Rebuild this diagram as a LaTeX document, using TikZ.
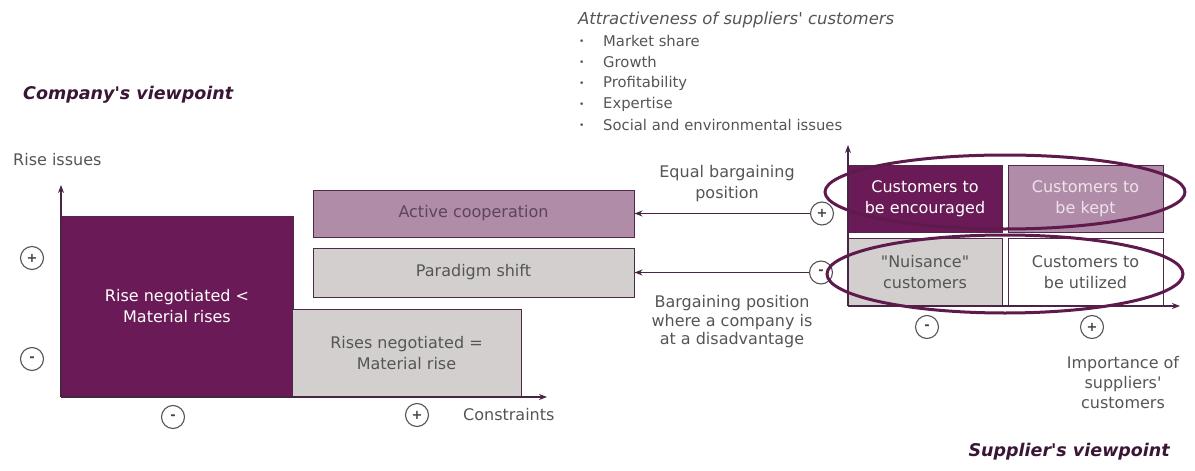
\documentclass[tikz,border=0pt]{standalone}
\usepackage{fontspec}
\setmainfont{DejaVu Sans}[Ligatures=TeXOff]
\usepackage{xcolor}
\usepackage{tikz}
\usetikzlibrary{positioning,arrows.meta}

\definecolor{darkplum}{HTML}{6A1A56}
\definecolor{mauve}{HTML}{B08CA8}
\definecolor{lightgrey}{HTML}{D3CFCF}
\definecolor{boxline}{HTML}{4E2A48}
\definecolor{axisline}{HTML}{4A2444}
\definecolor{ringplum}{HTML}{5E1A4D}
\definecolor{textgray}{HTML}{555555}
\definecolor{titleplum}{HTML}{3A1636}
\definecolor{paletext}{HTML}{EEE3EC}

\begin{document}
\begin{tikzpicture}[x=1pt, y=-1pt,
  txt/.style={font=\fontsize{16}{21}\selectfont, text=textgray, align=center, inner sep=0pt},
  listtxt/.style={font=\fontsize{14.8}{18}\selectfont, text=textgray, inner sep=0pt, anchor=west},
  box/.style={draw=boxline, line width=1pt, inner sep=0pt, align=center, text=textgray, font=\fontsize{16}{21}\selectfont},
  sign/.style={circle, draw=textgray, fill=white, line width=1.1pt, minimum size=23pt, inner sep=0pt, font=\fontsize{13}{13}\selectfont\bfseries, text=textgray!80!black},
  axis/.style={draw=axisline, line width=1.4pt, -{Stealth[length=8pt,width=6pt]}},
  view/.style={font=\fontsize{17.5}{20}\selectfont\bfseries\itshape, text=titleplum, inner sep=0pt},
  ring/.style={draw=ringplum, line width=3pt}]
\useasboundingbox (0,0) rectangle (1195,471);

% Company side
\node[view, anchor=west] (compview) at (23,95) {Company's viewpoint};
\node[txt, anchor=west] (riselbl) at (13,160) {Rise issues};

\node[box, fill=darkplum, text=white, minimum width=232pt, minimum height=181pt] (lowrise) at (177,306.5) {Rise negotiated <\\Material rises};
\node[box, fill=lightgrey, minimum width=229pt, minimum height=88pt] (eqrise) at (406.5,353) {Rises negotiated =\\Material rise};
\node[box, fill=mauve, text=boxline!70!gray, minimum width=321pt, minimum height=47pt] (coop) at (473.5,213.5) {Active cooperation};
\node[box, fill=lightgrey, minimum width=321pt, minimum height=49pt] (shift) at (473.5,272.5) {Paradigm shift};

% Left axes
\coordinate (lorig) at (61,397);
\coordinate (ltop) at (61,185);
\coordinate (lend) at (547,397);
\draw[axis] (lorig) -- (ltop);
\draw[axis] (lorig) -- (lend);

\node[sign] (lplus) at (32,258) {+};
\node[sign] (lminus) at (32,359) {-};
\node[sign] (bminus) at (173,417) {-};
\node[sign] (bplus) at (417,415) {+};
\node[txt, anchor=west] (constr) at (463,415) {Constraints};

% Attractiveness list
\node[listtxt, font=\fontsize{16.5}{18}\selectfont\itshape] (attr) at (578,20) {Attractiveness of suppliers' customers};
\node[listtxt] (item1) at (603,41) {Market share};
\node[listtxt] (item2) at (603,62) {Growth};
\node[listtxt] (item3) at (603,83) {Profitability};
\node[listtxt] (item4) at (603,104) {Expertise};
\node[listtxt] (item5) at (603,125) {Social and environmental issues};
\node[listtxt, font=\fontsize{9}{9}\selectfont] (dot1) at (579,42) {•};
\node[listtxt, font=\fontsize{9}{9}\selectfont] (dot2) at (579,63) {•};
\node[listtxt, font=\fontsize{9}{9}\selectfont] (dot3) at (579,84) {•};
\node[listtxt, font=\fontsize{9}{9}\selectfont] (dot4) at (579,105) {•};
\node[listtxt, font=\fontsize{9}{9}\selectfont] (dot5) at (579,126) {•};

% Supplier matrix
\node[box, fill=darkplum, text=white, minimum width=154pt, minimum height=67pt] (encour) at (925,198.5) {Customers to\\be encouraged};
\node[box, fill=mauve, text=paletext, minimum width=155pt, minimum height=67pt] (kept) at (1085.5,198.5) {Customers to\\be kept};
\node[box, fill=lightgrey, minimum width=154pt, minimum height=68pt] (nuis) at (925,272) {"Nuisance"\\customers};
\node[box, fill=white, minimum width=155pt, minimum height=68pt] (util) at (1085.5,272) {Customers to\\be utilized};

\coordinate (rorig) at (848,306);
\coordinate (rtop) at (848,145);
\coordinate (rend) at (1180,306);
\draw[axis] (rorig) -- (rtop);
\draw[axis] (rorig) -- (rend);

\node[sign] (rplus) at (822,213.5) {+};
\node[sign] (rminus) at (821,272.5) {-};
\node[sign] (qminus) at (927,327) {-};
\node[sign] (qplus) at (1092,327) {+};

% Bargaining arrows
\draw[axis, line width=1.2pt] (rplus) -- (coop);
\draw[axis, line width=1.2pt] (rminus) -- (shift);
\node[txt] (equal) at (727,184) {Equal bargaining\\position};
\node[txt, font=\fontsize{16}{18.5}\selectfont] (disadv) at (732,322) {Bargaining position\\where a company is\\at a disadvantage};

% Rings
\draw[ring] (1005,192) ellipse [x radius=180pt, y radius=37pt];
\draw[ring] (1005,274) ellipse [x radius=178pt, y radius=39pt];

\node[txt, font=\fontsize{16}{20}\selectfont] (import) at (1123,383) {Importance of\\suppliers'\\customers};
\node[view, anchor=east] (suppview) at (1170,452) {Supplier's viewpoint};
\end{tikzpicture}
\end{document}
